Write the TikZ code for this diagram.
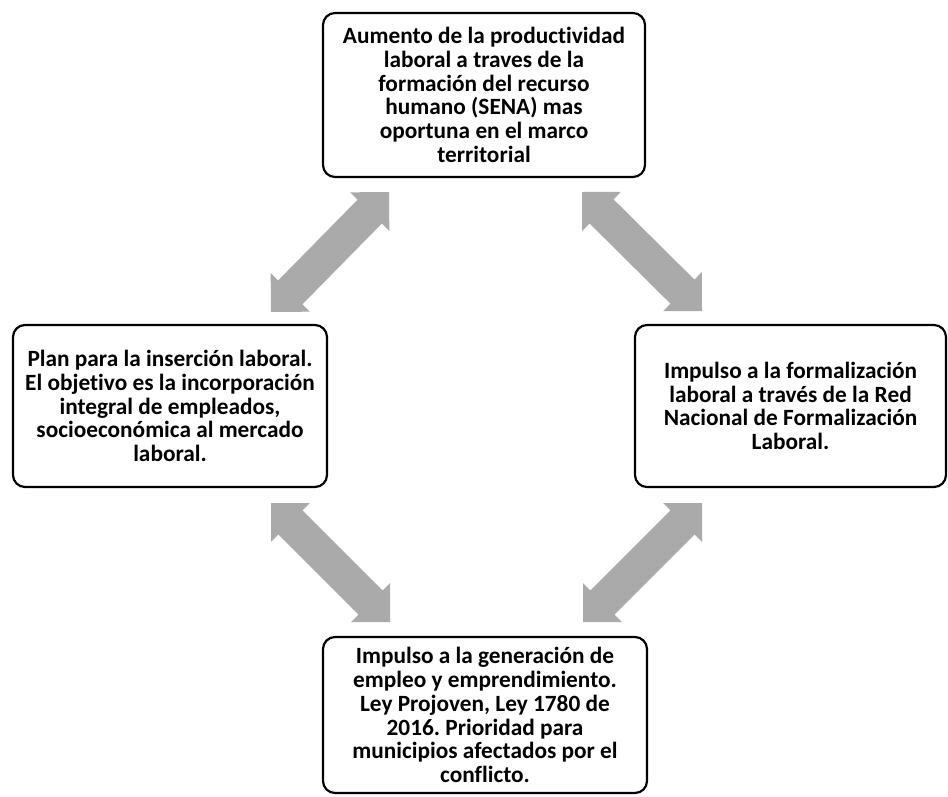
\documentclass[tikz,border=0pt]{standalone}
\usepackage{fontspec}
\setmainfont[Ligatures=NoCommon]{Carlito}
\usetikzlibrary{calc}
\definecolor{arrowgray}{RGB}{170,170,170}
\frenchspacing
\newcommand\BlockArrow[2]{%
  \fill[arrowgray]
    (#1)
    -- ($($(#1)!27.5pt!(#2)$)!27.5pt!90:(#2)$)
    -- ($($(#1)!27.5pt!(#2)$)!17pt!90:(#2)$)
    -- ($($(#2)!27.5pt!(#1)$)!17pt!-90:(#1)$)
    -- ($($(#2)!27.5pt!(#1)$)!27.5pt!-90:(#1)$)
    -- (#2)
    -- ($($(#2)!27.5pt!(#1)$)!27.5pt!90:(#1)$)
    -- ($($(#2)!27.5pt!(#1)$)!17pt!90:(#1)$)
    -- ($($(#1)!27.5pt!(#2)$)!17pt!-90:(#2)$)
    -- ($($(#1)!27.5pt!(#2)$)!27.5pt!-90:(#2)$)
    -- cycle;}
\tikzset{
  box/.style={draw=black, line width=2.2pt, rounded corners=12pt, fill=white,
    align=center, inner sep=0pt,
    font=\fontsize{23.3}{23.8}\selectfont\bfseries},
}
\begin{document}
\begin{tikzpicture}[x=1pt,y=-1pt]
\useasboundingbox (0,0) rectangle (948,796);
\node[box, minimum width=322pt, minimum height=164pt] (top) at (484,95)
  {Aumento de la productividad\\laboral a traves de la\\formación del recurso\\humano (SENA) mas\\oportuna en el marco\\territorial};
\node[box, minimum width=314pt, minimum height=162pt] (left) at (170,406)
  {Plan para la inserción laboral.\\El objetivo es la incorporación\\integral de empleados,\\socioeconómica al mercado\\laboral.};
\node[box, minimum width=311pt, minimum height=162pt] (right) at (790.5,406)
  {Impulso a la formalización\\laboral a través de la Red\\Nacional de Formalización\\Laboral.};
\node[box, minimum width=324pt, minimum height=156pt] (bottom) at (485,715)
  {Impulso a la generación de\\empleo y emprendimiento.\\Ley Projoven, Ley 1780 de\\2016. Prioridad para\\municipios afectados por el\\conflicto.};
\coordinate (a1t) at (389,192);
\coordinate (a1l) at (271,312);
\coordinate (a2t) at (582,192);
\coordinate (a2r) at (702,311);
\coordinate (a3l) at (271,503);
\coordinate (a3b) at (390,622);
\coordinate (a4r) at (702,503);
\coordinate (a4b) at (583,622);
\BlockArrow{a1t}{a1l}
\BlockArrow{a2t}{a2r}
\BlockArrow{a3l}{a3b}
\BlockArrow{a4r}{a4b}
\end{tikzpicture}
\end{document}
